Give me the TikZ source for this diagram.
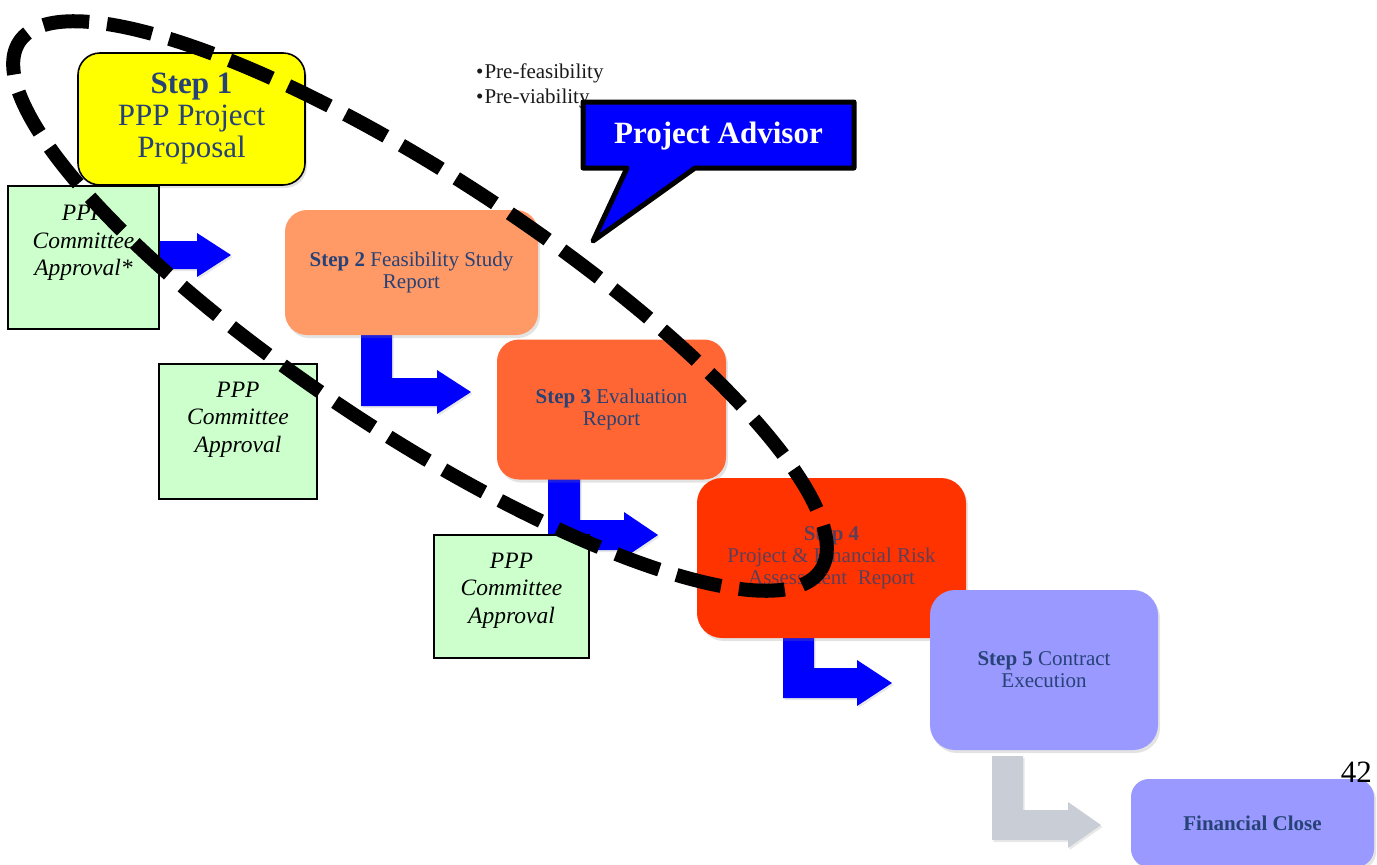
\documentclass[tikz,border=0pt]{standalone}
\usepackage{fontspec}
\setmainfont{Liberation Serif}
\usetikzlibrary{shadows}
\definecolor{stepblue}{RGB}{38,66,118}
\definecolor{yel}{RGB}{255,255,0}
\definecolor{apgreen}{RGB}{204,255,204}
\definecolor{stwo}{RGB}{255,153,102}
\definecolor{sthree}{RGB}{255,102,51}
\definecolor{sfour}{RGB}{255,51,0}
\definecolor{sfive}{RGB}{153,153,255}
\definecolor{arrblue}{RGB}{0,0,255}
\definecolor{arrgrey}{RGB}{201,205,214}
\tikzset{
  softshadow/.style={drop shadow={shadow xshift=2pt, shadow yshift=-3pt, opacity=0.22}},
  stepbox/.style={rounded corners=22pt, inner sep=0pt, outer sep=0pt, align=center,
    text=stepblue, font=\fontsize{21}{22}\selectfont, softshadow},
  apprbox/.style={draw=black, line width=1.6pt, fill=apgreen, inner sep=0pt, outer sep=0pt},
  apprtext/.style={align=center, font=\itshape\fontsize{23.5}{27.5}\selectfont, text=black, inner sep=0pt},
  blockarrow/.style={fill=arrblue, drop shadow={shadow xshift=1.5pt, shadow yshift=-2pt, opacity=0.18}},
  greyarrow/.style={fill=arrgrey, drop shadow={shadow xshift=1.5pt, shadow yshift=-2pt, opacity=0.18}},
  bullettext/.style={anchor=base west, inner sep=0pt, font=\fontsize{21}{24}\selectfont, text=black!90},
  ring/.style={line width=14pt, dash pattern=on 46pt off 18pt, draw=black}
}
\begin{document}
\begin{tikzpicture}[x=1pt, y=-1pt]
\useasboundingbox (0,0) rectangle (1377,865);
\clip (0,0) rectangle (1377,865);

% block arrows
\fill[blockarrow] (159,241) -- (197,241) -- (197,233) -- (231,255) -- (197,277) -- (197,269) -- (159,269) -- cycle;
\fill[blockarrow] (361,330) -- (392,330) -- (392,378) -- (437,378) -- (437,370) -- (471,392) -- (437,414) -- (437,406) -- (361,406) -- cycle;
\fill[blockarrow] (548,475) -- (580,475) -- (580,520) -- (624,520) -- (624,512) -- (658,535) -- (624,558) -- (624,550) -- (548,550) -- cycle;
\fill[blockarrow] (783,634) -- (814,634) -- (814,668) -- (857,668) -- (857,660) -- (892,683) -- (857,706) -- (857,698) -- (783,698) -- cycle;
\fill[greyarrow] (992,756) -- (1023,756) -- (1023,810) -- (1068,810) -- (1068,802) -- (1101,825) -- (1068,848) -- (1068,840) -- (992,840) -- cycle;

% step boxes
\node[stepbox, fill=yel, draw=black, line width=1.6pt, font=\fontsize{31}{32}\selectfont,
  minimum width=227pt, minimum height=132pt] (s1) at (191.5,119) {\textbf{Step 1}\\PPP Project\\Proposal};
\node[stepbox, fill=stwo, minimum width=253pt, minimum height=125pt] (s2) at (411.5,272.5)
  {\textbf{Step 2} Feasibility Study\\Report};
\node[stepbox, fill=sthree, minimum width=229pt, minimum height=140pt] (s3) at (611.5,409.5)
  {\textbf{Step 3} Evaluation\\Report};
\node[stepbox, fill=sfour, rounded corners=25pt, text opacity=0.75, minimum width=269pt, minimum height=160pt] (s4) at (831.5,558)
  {\textbf{Step 4}\\Project \& Financial Risk\\Assessment\ \ Report};
\node[stepbox, fill=sfive, rounded corners=25pt, minimum width=228pt, minimum height=160pt] (s5) at (1044,670)
  {\textbf{Step 5} Contract\\Execution};
\node[stepbox, fill=sfive, rounded corners=18pt, minimum width=243pt, minimum height=88pt] (fc) at (1252.5,823)
  {\textbf{Financial Close}};

% approval boxes
\node[apprbox, minimum width=151pt, minimum height=143pt] (a1) at (83.5,257.5) {};
\node[apprtext] (a1t) at (83.5,243) {PPP\\Committee\\Approval*};
\node[apprbox, minimum width=158pt, minimum height=135pt] (a2) at (238,431.5) {};
\node[apprtext] (a2t) at (238,419.5) {PPP\\Committee\\Approval};
\node[apprbox, minimum width=155pt, minimum height=123pt] (a3) at (511.5,596.5) {};
\node[apprtext] (a3t) at (511.5,590.5) {PPP\\Committee\\Approval};

% bullets
\node[bullettext] (b1) at (476,78) {\textbullet\hspace{1pt}Pre-feasibility};
\node[bullettext] (b2) at (476,103) {\textbullet\hspace{1pt}Pre-viability};

% callout
\filldraw[fill=arrblue, draw=black, line width=5pt, line join=round]
  (583,102) -- (854,102) -- (854,168) -- (695,168) -- (593,241) -- (627,168) -- (583,168) -- cycle;
\node[text=white, inner sep=0pt, font=\bfseries\fontsize{31}{32}\selectfont] (adv) at (718.5,136) {Project Advisor};

% page number
\node[anchor=base east, inner sep=0pt, font=\fontsize{31}{31}\selectfont] (pg) at (1372,782) {42};

% dashed ellipse
\draw[ring, rotate around={-33.4:(420,306)}] (420,306) ellipse [x radius=480pt, y radius=127pt];
\end{tikzpicture}
\end{document}
